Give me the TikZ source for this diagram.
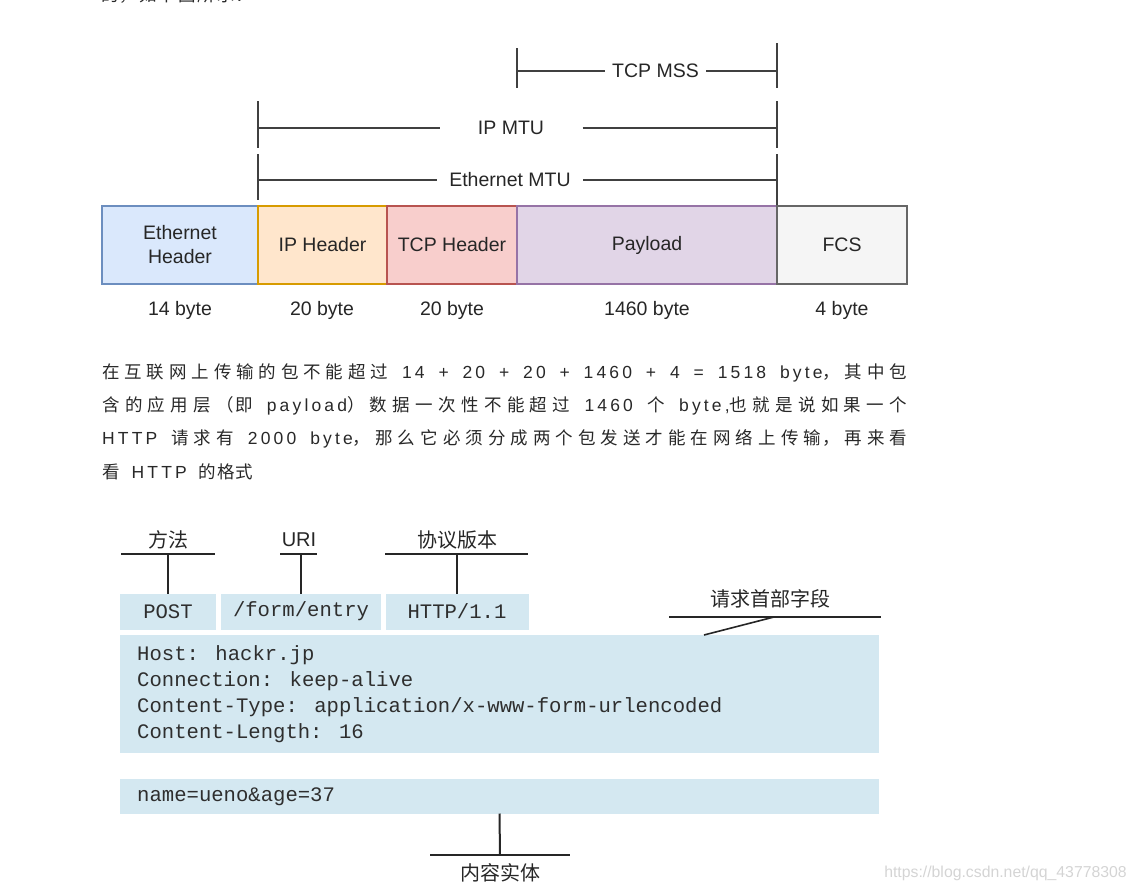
\documentclass[tikz,border=0pt]{standalone}
\usepackage{fontspec}
\setmainfont{Liberation Sans}
\newfontfamily\cjk{Noto Sans CJK SC}
\newfontfamily\pcjk[LetterSpace=6]{Noto Sans CJK SC}
\newfontfamily\plat[LetterSpace=18]{Liberation Sans}
\newfontfamily\monof{Liberation Mono}
\definecolor{ethF}{HTML}{DAE8FC}\definecolor{ethS}{HTML}{6C8EBF}
\definecolor{ipF}{HTML}{FFE6CC}\definecolor{ipS}{HTML}{D79B00}
\definecolor{tcpF}{HTML}{F8CECC}\definecolor{tcpS}{HTML}{B85450}
\definecolor{payF}{HTML}{E1D5E7}\definecolor{payS}{HTML}{9673A6}
\definecolor{fcsF}{HTML}{F5F5F5}\definecolor{fcsS}{HTML}{666666}
\definecolor{httpblue}{RGB}{212,232,241}
\definecolor{ptext}{RGB}{40,40,40}
\newcommand{\ZC}[1]{{\pcjk\fontsize{17.5}{20}\selectfont #1}}
\newcommand{\ZL}[1]{{\plat\fontsize{17.5}{20}\selectfont #1}}
\newcommand{\jline}[2][805pt]{\parbox{#1}{\tolerance=10000 \parfillskip=0pt
  \XeTeXlinebreaklocale "zh"\XeTeXlinebreakskip=0pt plus 1fil
  \spaceskip=9pt plus 1fil\relax #2}}
\begin{document}
\begin{tikzpicture}[x=1pt,y=-1pt,
  lbl/.style={font=\fontsize{19.5}{24}\selectfont, text=black!85, inner sep=0pt, outer sep=0pt},
  seg/.style={draw=black!75, line width=1.2pt},
  pbox/.style={draw, line width=1.3pt, minimum height=78pt, inner sep=0pt, outer sep=0pt,
    font=\fontsize{19.5}{24}\selectfont, text=black!85, align=center},
  hbox/.style={fill=httpblue, inner sep=0pt, outer sep=0pt},
  htxt/.style={font=\monof\fontsize{20.6}{26}\selectfont, text=black!82, inner sep=0pt, anchor=west},
  hline/.style={line width=2pt, draw=black!85},
  cjklbl/.style={font=\cjk\fontsize{20}{24}\selectfont, text=black!85, inner sep=0pt},
  para/.style={text=ptext, inner sep=0pt, anchor=west}
]
\useasboundingbox (0,0) rectangle (1136,892);
\clip (0,0) rectangle (1136,892);

% clipped line at the top
\node[para] (top) at (101,-5) {\jline[152pt]{\ZC{的，如下图所示：}}};

% ---------- brackets ----------
\coordinate (mssL1) at (517,48); \coordinate (mssL2) at (517,88);
\coordinate (mssR1) at (777,43); \coordinate (mssR2) at (777,88);
\coordinate (mssLm) at (517,71); \coordinate (mssRm) at (777,71);
\draw[seg] (mssL1) -- (mssL2);
\draw[seg] (mssR1) -- (mssR2);
\node[lbl, minimum width=101pt] (mss) at (655.5,71) {TCP MSS};
\draw[seg] (mssLm) -- (mss.west);
\draw[seg] (mss.east) -- (mssRm);

\coordinate (ipL1) at (258,101); \coordinate (ipL2) at (258,148);
\coordinate (ipR1) at (777,101); \coordinate (ipR2) at (777,148);
\coordinate (ipLm) at (258,128); \coordinate (ipRm) at (777,128);
\draw[seg] (ipL1) -- (ipL2);
\draw[seg] (ipR1) -- (ipR2);
\node[lbl, minimum width=143pt] (ipmtu) at (511,128) {IP MTU};
\draw[seg] (ipLm) -- (ipmtu.west);
\draw[seg] (ipmtu.east) -- (ipRm);

\coordinate (etL1) at (258,154); \coordinate (etL2) at (258,200);
\coordinate (etR1) at (777,154); \coordinate (etR2) at (777,206);
\coordinate (etLm) at (258,180); \coordinate (etRm) at (777,180);
\draw[seg] (etL1) -- (etL2);
\draw[seg] (etR1) -- (etR2);
\node[lbl, minimum width=146pt] (etmtu) at (510,180) {Ethernet MTU};
\draw[seg] (etLm) -- (etmtu.west);
\draw[seg] (etmtu.east) -- (etRm);

% ---------- frame boxes ----------
\node[pbox, fill=ethF, draw=ethS, minimum width=156pt] (eth) at (180,245) {Ethernet\\Header};
\node[pbox, fill=ipF, draw=ipS, minimum width=129pt] (ip) at (322.5,245) {IP Header};
\node[pbox, fill=tcpF, draw=tcpS, minimum width=130pt] (tcp) at (452,245) {TCP Header};
\node[pbox, fill=payF, draw=payS, minimum width=260pt] (pay) at (647,245) {Payload};
\node[pbox, fill=fcsF, draw=fcsS, minimum width=130pt] (fcs) at (842,245) {FCS};

\node[lbl] (b1) at (180,310) {14 byte};
\node[lbl] (b2) at (322,310) {20 byte};
\node[lbl] (b3) at (452,310) {20 byte};
\node[lbl] (b4) at (647,310) {1460 byte};
\node[lbl] (b5) at (842,310) {4 byte};

% ---------- paragraph ----------
\node[para] (p1) at (102,373) {\jline{\ZC{在互联网上传输的包不能超过} \ZL{14 + 20 + 20 + 1460 + 4 = 1518 byte}\ZC{，其中包}}};
\node[para] (p2) at (102,406) {\jline{\ZC{含的应用层（即} \ZL{payload}\ZC{）数据一次性不能超过} \ZL{1460} \ZC{个} \ZL{byte,}\ZC{也就是说如果一个}}};
\node[para] (p3) at (102,439) {\jline{\ZL{HTTP} \ZC{请求有} \ZL{2000 byte}\ZC{，那么它必须分成两个包发送才能在网络上传输，再来看}}};
\node[para] (p4) at (102,472) {\spaceskip=12pt\relax\ZC{看} \ZL{HTTP} \ZC{的格式}};

% ---------- HTTP request ----------
\node[hbox, minimum width=96pt, minimum height=36pt] (post) at (168,611.5) {};
\node[hbox, minimum width=160pt, minimum height=36pt] (uri) at (301,611.5) {};
\node[hbox, minimum width=143pt, minimum height=36pt] (ver) at (457,611.5) {};
\node[htxt, anchor=center] at (post.center) {POST};
\node[htxt, anchor=center] at (uri.center) {/form/entry};
\node[htxt, anchor=center] at (ver.center) {HTTP/1.1};

\node[hbox, minimum width=759pt, minimum height=118pt] (hdr) at (499.5,694) {};
\node[htxt] (h1) at (137,655) {Host: hackr.jp};
\node[htxt] (h2) at (137,681) {Connection: keep-alive};
\node[htxt] (h3) at (137,707) {Content-Type: application/x-www-form-urlencoded};
\node[htxt] (h4) at (137,733) {Content-Length: 16};

\node[hbox, minimum width=759pt, minimum height=35pt] (body) at (499.5,796) {};
\node[htxt] (bt) at (137,797) {name=ueno\&age=37};

% labels with leader lines
\node[cjklbl] (lm) at (168,540) {方法};
\coordinate (lmA) at (121,554); \coordinate (lmB) at (215,554); \coordinate (lmC) at (168,554);
\draw[hline] (lmA) -- (lmB);
\draw[hline] (lmC) -- (post.north);

\node[cjklbl, font=\fontsize{20}{24}\selectfont] (lu) at (299,540) {URI};
\coordinate (luA) at (280,554); \coordinate (luB) at (317,554); \coordinate (luC) at (301,554);
\draw[hline] (luA) -- (luB);
\draw[hline] (luC) -- (uri.north);

\node[cjklbl] (lv) at (457,540) {协议版本};
\coordinate (lvA) at (385,554); \coordinate (lvB) at (528,554); \coordinate (lvC) at (457,554);
\draw[hline] (lvA) -- (lvB);
\draw[hline] (lvC) -- (ver.north);

\node[cjklbl] (lh) at (770,599) {请求首部字段};
\coordinate (lhA) at (669,617); \coordinate (lhB) at (881,617); \coordinate (lhC) at (774,617);
\coordinate (lhD) at (704,635);
\draw[hline] (lhA) -- (lhB);
\draw[line width=1.6pt, draw=black!85] (lhC) -- (lhD);

\node[cjklbl] (lb) at (500,873) {内容实体};
\coordinate (lbA) at (430,855); \coordinate (lbB) at (570,855); \coordinate (lbC) at (500,855);
\draw[hline] (lbA) -- (lbB);
\draw[hline] (body.south) -- (lbC);

% watermark
\node[font=\fontsize{15.8}{18}\selectfont, text=black!17, inner sep=0pt] (wm) at (1005.5,873) {https://blog.csdn.net/qq\_43778308};
\end{tikzpicture}
\end{document}
